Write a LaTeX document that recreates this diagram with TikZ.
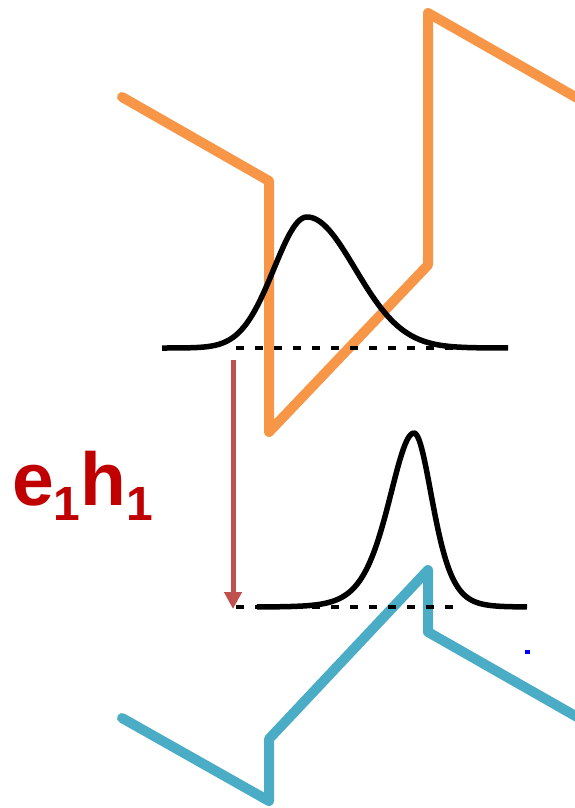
\documentclass[tikz,border=0pt]{standalone}
\usepackage{fontspec}
\setmainfont{Liberation Sans}
\usetikzlibrary{arrows.meta}
\definecolor{bandorange}{HTML}{F79646}
\definecolor{bandblue}{HTML}{4BACC6}
\definecolor{arrowred}{HTML}{C0504D}
\definecolor{labelred}{HTML}{C00000}
\begin{document}
\begin{tikzpicture}[x=1pt,y=-1pt]

    \tikzset{
      band/.style={
        line width=10pt,
        line cap=round,
        line join=round,
      },
      wave/.style={
        line width=5.5pt,
        line join=round,
        samples=90,
      },
      level/.style={
        line width=4.5pt,
        dash pattern=on 8pt off 11pt,
      },
    }
    \useasboundingbox (0,0) rectangle (575,808);
    \clip (0,0) rectangle (575,808);

	% conduction band (orange) and valence band (blue)
	\draw[band,color={bandorange}] (122,97)--(269,181)--(269,432)--(428,265)--(428,13)--(600,111);
	\draw[band,color={bandblue}] (122,718)--(269,801)--(269,739)--(428,570)--(428,632)--(600,730);

	% electron wavefunction
	\draw[level] (236,348)--(455,348);
	\draw[wave] plot[domain=162:307] (\x,{348-131*exp(-0.5*((\x-307)/33)^2)})
	  -- plot[domain=307:508] (\x,{348-131*exp(-0.5*((\x-307)/48)^2)});

	% hole wavefunction
	\draw[level] (236,607)--(460,607);
	\draw[wave] plot[domain=257:414] (\x,{607-174/(cosh((\x-414)/34)^2)})
	  -- plot[domain=414:527] (\x,{607-174/(cosh((\x-414)/25)^2)});

	\coordinate (arrtop) at (233,360);
	\coordinate (arrbot) at (233,609);
	\draw[-{Triangle[width=17pt,length=17pt]},line width=5pt,color={arrowred}] (arrtop)--(arrbot);

	\node[anchor=base west,inner sep=0pt,color={labelred},font=\bfseries] (trans) at (12,505)
	  {\fontsize{75}{75}\selectfont e\raisebox{-15pt}{\fontsize{48}{48}\selectfont 1}h\raisebox{-15pt}{\fontsize{48}{48}\selectfont 1}};

	\fill[color={blue}] (525,650) rectangle (530,654);

\end{tikzpicture}
\end{document}
